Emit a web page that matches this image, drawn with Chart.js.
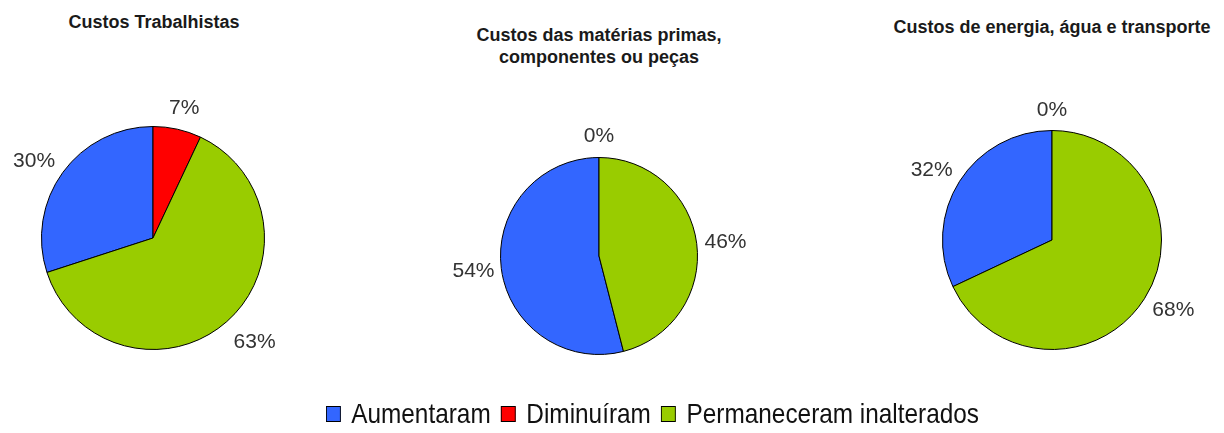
<!DOCTYPE html>
<html>
<head>
<meta charset="utf-8">
<script src="https://cdn.jsdelivr.net/npm/chart.js@4/dist/chart.umd.min.js"></script>
<style>
  html, body { margin: 0; padding: 0; background: #fff; }
  body { width: 1224px; height: 433px; position: relative; overflow: hidden; }
  .pie { position: absolute; top: 0; width: 380px; height: 433px; }
  .title {
    position: absolute; text-align: center; white-space: nowrap;
    font: bold 18px "Liberation Sans", Arial, sans-serif; color: #1a1a1a; line-height: 22px;
  }
  #legend {
    position: absolute; left: 326px; top: 398px; display: flex; align-items: center;
    font: 28px "Liberation Sans", Arial, sans-serif; color: #111;
    transform: scaleX(0.87); transform-origin: left center; white-space: nowrap;
  }
  .item { display: flex; align-items: center; margin-right: 12px; }
  .box { width: 15px; height: 14px; border: 1px solid #000; margin-right: 12px; }
</style>
</head>
<body>
<div class="title" style="left:0;width:308px;top:11px">Custos Trabalhistas</div>
<div class="title" style="left:440px;width:318px;top:24px">Custos das matérias primas,<br>componentes ou peças</div>
<div class="title" style="left:890px;width:324px;top:16px">Custos de energia, água e transporte</div>

<canvas id="pie1" class="pie" width="380" height="433"></canvas>
<canvas id="pie2" class="pie" width="380" height="433"></canvas>
<canvas id="pie3" class="pie" width="380" height="433"></canvas>
<div id="legend"></div>

<script>
// ---------- Data ----------
const categories = ['Aumentaram', 'Diminuíram', 'Permaneceram inalterados'];
const custosTrabalhistas = [30, 7, 63];
const custosMaterias = [54, 0, 46];
const custosEnergia = [32, 0, 68];

const colors = ['#3366FF', '#FF0000', '#99CC00'];

// ---------- Layout (where each pie sits on the page) ----------
const pies = [
  { id: 'pie1', values: custosTrabalhistas, cx: 153, cy: 238, r: 112,
    nudge: [[-2, 0], [1, -1], [6, 6]] },
  { id: 'pie2', values: custosMaterias, cx: 599, cy: 256, r: 99,
    nudge: [[5, 0], [0, -1], [-4, 1]] },
  { id: 'pie3', values: custosEnergia, cx: 1052, cy: 240, r: 110,
    nudge: [[0, 0], [0, 0], [1, 1]] },
];

const outsideLabels = {
  id: 'outsideLabels',
  afterDatasetsDraw(chart, args, opts) {
    const { ctx } = chart;
    const meta = chart.getDatasetMeta(0);
    const values = chart.data.datasets[0].data;
    ctx.save();
    ctx.font = '21px "Liberation Sans", Arial, sans-serif';
    ctx.fillStyle = '#333';
    ctx.textAlign = 'center';
    ctx.textBaseline = 'middle';
    meta.data.forEach((arc, i) => {
      const p = arc.getProps(['x', 'y', 'startAngle', 'endAngle', 'outerRadius'], true);
      const mid = (p.startAngle + p.endAngle) / 2;
      const ux = Math.cos(mid), uy = Math.sin(mid);
      const text = values[i] + '%';
      const w = ctx.measureText(text).width;
      const h = 16;
      const rr = p.outerRadius + opts.gap;
      const n = (opts.nudge && opts.nudge[i]) || [0, 0];
      ctx.fillText(text, p.x + ux * rr + ux * w / 2 + n[0], p.y + uy * rr + uy * h / 2 + n[1]);
    });
    ctx.restore();
  },
};

pies.forEach(pie => {
  const canvas = document.getElementById(pie.id);
  canvas.style.left = (pie.cx - 190) + 'px';
  const total = pie.values.reduce((a, b) => a + b, 0);

  new Chart(canvas, {
    type: 'pie',
    data: {
      labels: categories,
      datasets: [{
        data: pie.values,
        backgroundColor: colors,
        borderColor: '#000',
        borderWidth: 1,
      }],
    },
    options: {
      responsive: false,
      animation: false,
      // first slice ends at 12 o'clock
      rotation: -pie.values[0] / total * 360,
      layout: {
        padding: {
          left: 190 - pie.r,
          right: 190 - pie.r,
          top: pie.cy - pie.r,
          bottom: 433 - pie.cy - pie.r,
        },
      },
      plugins: {
        legend: { display: false },
        tooltip: { enabled: false },
        outsideLabels: { gap: 12, nudge: pie.nudge },
      },
    },
    plugins: [outsideLabels],
  });
});

// ---------- Legend ----------
const legendEl = document.getElementById('legend');
categories.forEach((name, i) => {
  const item = document.createElement('span');
  item.className = 'item';
  const box = document.createElement('span');
  box.className = 'box';
  box.style.background = colors[i];
  const label = document.createElement('span');
  label.textContent = name;
  item.append(box, label);
  legendEl.appendChild(item);
});
</script>
</body>
</html>
